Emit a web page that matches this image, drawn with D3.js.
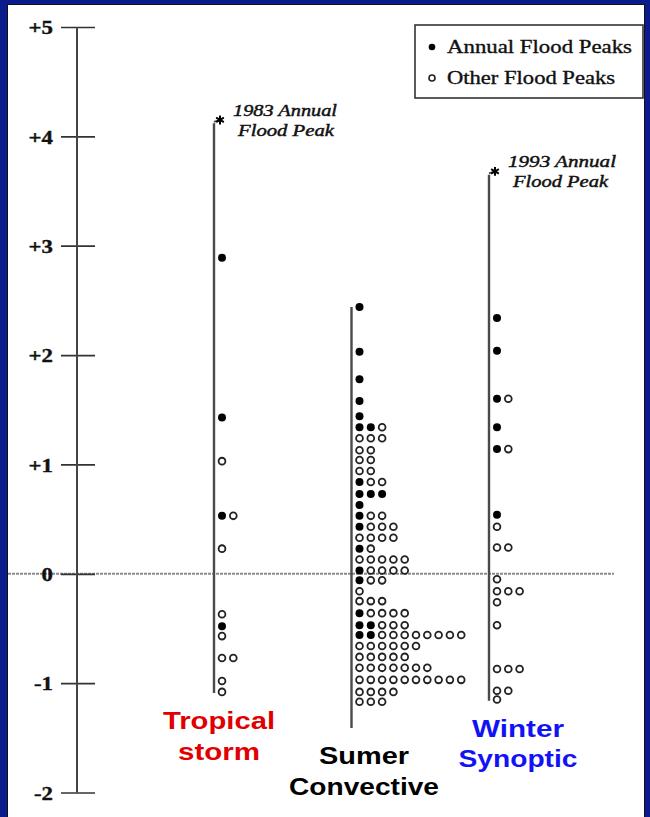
<!DOCTYPE html>
<html>
<head>
<meta charset="utf-8">
<script src="https://cdn.jsdelivr.net/npm/d3@7"></script>
<style>
  html, body { margin: 0; padding: 0; background: #0b1a8c; }
  svg { display: block; }
</style>
</head>
<body>
<script>
// ---------------- DATA ----------------
const categories = ["Tropical storm", "Sumer Convective", "Winter Synoptic"];
const categoryLines = [["Tropical", "storm"], ["Sumer", "Convective"], ["Winter", "Synoptic"]];

const tickValues = [-2, -1, 0, 1, 2, 3, 4, 5];
const tickLabels = ["-2", "-1", "0", "+1", "+2", "+3", "+4", "+5"];

// Tropical storm: row values, number of annual peaks (filled), number of other peaks (open)
const tropicalValues = [2.89, 1.43, 1.03, 0.53, 0.23, -0.37, -0.48, -0.57, -0.77, -0.98, -1.08];
const tropicalAnnual = [1, 1, 0, 1, 0, 0, 1, 0, 0, 0, 0];
const tropicalOther  = [0, 0, 1, 1, 1, 1, 0, 1, 2, 1, 1];

// Summer convective
const summerValues = [2.44, 2.03, 1.78, 1.58, 1.44, 1.34, 1.24, 1.13, 1.04, 0.94, 0.84, 0.73, 0.63, 0.53, 0.43, 0.33, 0.23, 0.13, 0.03,
                      -0.06, -0.16, -0.25, -0.36, -0.47, -0.56, -0.66, -0.76, -0.86, -0.97, -1.08, -1.17];
const summerAnnual = [1, 1, 1, 1, 1, 2, 0, 0, 0, 0, 1, 3, 1, 1, 1, 0, 1, 0, 1,
                      1, 0, 0, 1, 2, 2, 0, 0, 0, 0, 0, 0];
const summerOther  = [0, 0, 0, 0, 0, 1, 3, 2, 2, 2, 2, 0, 0, 2, 3, 4, 1, 5, 4,
                      2, 1, 3, 4, 3, 8, 6, 5, 7, 10, 4, 3];

// Winter synoptic
const winterValues = [2.34, 2.04, 1.60, 1.34, 1.14, 0.54, 0.43, 0.24, -0.05, -0.16, -0.26, -0.47, -0.87, -1.07, -1.15];
const winterAnnual = [1, 1, 1, 1, 1, 1, 0, 0, 0, 0, 0, 0, 0, 0, 0];
const winterOther  = [0, 0, 1, 0, 1, 0, 1, 2, 1, 3, 1, 1, 3, 2, 1];

// Record peaks (asterisks) and extent of each vertical line (data units)
const peakValues = [4.15, null, 3.68];
const peakLabels = [["1983 Annual", "Flood Peak"], null, ["1993 Annual", "Flood Peak"]];
const lineTops = [4.12, 2.44, 3.65];
const lineBottoms = [-1.09, -1.41, -1.16];

const legendLabels = ["Annual Flood Peaks", "Other Flood Peaks"];

// ---------------- CHART ----------------
const W = 650, H = 817;
const svg = d3.select("body").append("svg").attr("width", W).attr("height", H);

// frame
svg.append("rect").attr("x", 0).attr("y", 0).attr("width", W).attr("height", H).attr("fill", "#0b1a8c");
svg.append("rect").attr("x", 7.5).attr("y", 4.5).attr("width", 637).attr("height", H + 10)
  .attr("fill", "#ffffff").attr("stroke", "#111").attr("stroke-width", 1);

const y = d3.scaleLinear().domain([-2, 5]).range([792.5, 27]);
const x = d3.scalePoint().domain(categories).range([214, 489]);

// zero reference line
svg.append("line")
  .attr("x1", 8).attr("x2", 614).attr("y1", y(0)).attr("y2", y(0))
  .attr("stroke", "#8a8a8a").attr("stroke-width", 2).attr("stroke-dasharray", "3,1");

// y axis
const axisG = svg.append("g").attr("transform", "translate(77,0)")
  .call(d3.axisLeft(y).tickValues(tickValues).tickSize(0)
        .tickFormat((d, i) => tickLabels[i]));
axisG.select(".domain").remove();
axisG.append("line").attr("x1", 0).attr("x2", 0).attr("y1", y(5)).attr("y2", y(-2))
  .attr("stroke", "#444").attr("stroke-width", 2);
axisG.selectAll(".tick line").attr("x1", -16).attr("x2", 18)
  .attr("stroke", "#333").attr("stroke-width", 1.7);
axisG.selectAll(".tick text")
  .attr("x", 0).attr("dy", "0.36em")
  .attr("transform", "translate(-24,0) scale(1.2,1)")
  .attr("text-anchor", "end")
  .attr("fill", "#111")
  .attr("stroke", "#111").attr("stroke-width", 0.4)
  .style("font-family", "'Liberation Serif', 'Times New Roman', serif")
  .style("font-weight", "bold")
  .style("font-size", "19px");

// columns
const columns = [
  { values: tropicalValues, annual: tropicalAnnual, other: tropicalOther },
  { values: summerValues, annual: summerAnnual, other: summerOther },
  { values: winterValues, annual: winterAnnual, other: winterOther }
];

const dotOffset = 8, dotStep = 11.3;

columns.forEach((col, ci) => {
  const cx = x(categories[ci]);
  const g = svg.append("g");
  g.append("line").attr("x1", cx).attr("x2", cx)
    .attr("y1", y(lineTops[ci])).attr("y2", y(lineBottoms[ci]))
    .attr("stroke", "#4a4a4a").attr("stroke-width", 2.4);

  const pts = [];
  col.values.forEach((v, ri) => {
    let k = 0;
    for (let a = 0; a < col.annual[ri]; a++) pts.push({ v, k: k++, type: "annual" });
    for (let o = 0; o < col.other[ri]; o++) pts.push({ v, k: k++, type: "other" });
  });

  g.selectAll("circle.pt").data(pts).join("circle")
    .attr("class", "pt")
    .attr("cx", d => cx + dotOffset + d.k * dotStep)
    .attr("cy", d => y(d.v))
    .attr("r", d => d.type === "annual" ? 4 : 3.4)
    .attr("fill", d => d.type === "annual" ? "#000" : "#fff")
    .attr("stroke", d => d.type === "annual" ? "none" : "#222")
    .attr("stroke-width", 1.8);

  if (peakValues[ci] !== null) {
    const py = y(peakValues[ci]);
    g.append("line").attr("x1", cx).attr("x2", cx + 6).attr("y1", py + 2).attr("y2", py)
      .attr("stroke", "#4a4a4a").attr("stroke-width", 1.8);
    g.append("path")
      .attr("d", d3.symbol(d3.symbolAsterisk, 55)())
      .attr("transform", `translate(${cx + 6},${py})`)
      .attr("fill", "none").attr("stroke", "#000").attr("stroke-width", 2);
    const lbl = peakLabels[ci];
    const lens = [[104, 96], [108, 95]][ci === 0 ? 0 : 1];
    [0, 1].forEach(li => {
      g.append("text").text(lbl[li])
        .attr("x", cx + (li === 0 ? 19 : 24)).attr("y", py + (li === 0 ? -4 : 16))
        .attr("textLength", lens[li]).attr("lengthAdjust", "spacingAndGlyphs")
        .attr("fill", "#111").attr("stroke", "#111").attr("stroke-width", 0.45)
        .style("font-family", "'Liberation Serif', 'Times New Roman', serif")
        .style("font-style", "italic").style("font-size", "17px");
    });
  }
});

// category labels
const labelStyle = [
  { color: "#e00000", dx: 5, base: [729, 760], len: [112, 82] },
  { color: "#000000", dx: 12.5, base: [764, 795], len: [90, 150] },
  { color: "#1212f5", dx: 29, base: [737, 767], len: [92, 119] }
];
categoryLines.forEach((lines, ci) => {
  const s = labelStyle[ci];
  lines.forEach((t, li) => {
    svg.append("text").text(t)
      .attr("x", x(categories[ci]) + s.dx).attr("y", s.base[li])
      .attr("text-anchor", "middle")
      .attr("textLength", s.len[li]).attr("lengthAdjust", "spacingAndGlyphs")
      .attr("fill", s.color)
      .style("font-family", "'Liberation Sans', Arial, sans-serif")
      .style("font-weight", "bold").style("font-size", "24px");
  });
});

// legend
const lg = svg.append("g");
lg.append("rect").attr("x", 415).attr("y", 25).attr("width", 228).attr("height", 73)
  .attr("fill", "#fff").attr("stroke", "#333").attr("stroke-width", 1.6);
const legendLens = [185, 168];
legendLabels.forEach((t, i) => {
  const ly = 47 + i * 31;
  lg.append("circle").attr("cx", 432).attr("cy", ly).attr("r", i === 0 ? 3.3 : 3)
    .attr("fill", i === 0 ? "#000" : "#fff").attr("stroke", i === 0 ? "none" : "#222")
    .attr("stroke-width", 1.6);
  lg.append("text").text(t).attr("x", 447).attr("y", ly + 6)
    .attr("textLength", legendLens[i]).attr("lengthAdjust", "spacingAndGlyphs")
    .attr("fill", "#111").attr("stroke", "#111").attr("stroke-width", 0.35)
    .style("font-family", "'Liberation Serif', 'Times New Roman', serif")
    .style("font-size", "18px");
});
</script>
</body>
</html>
